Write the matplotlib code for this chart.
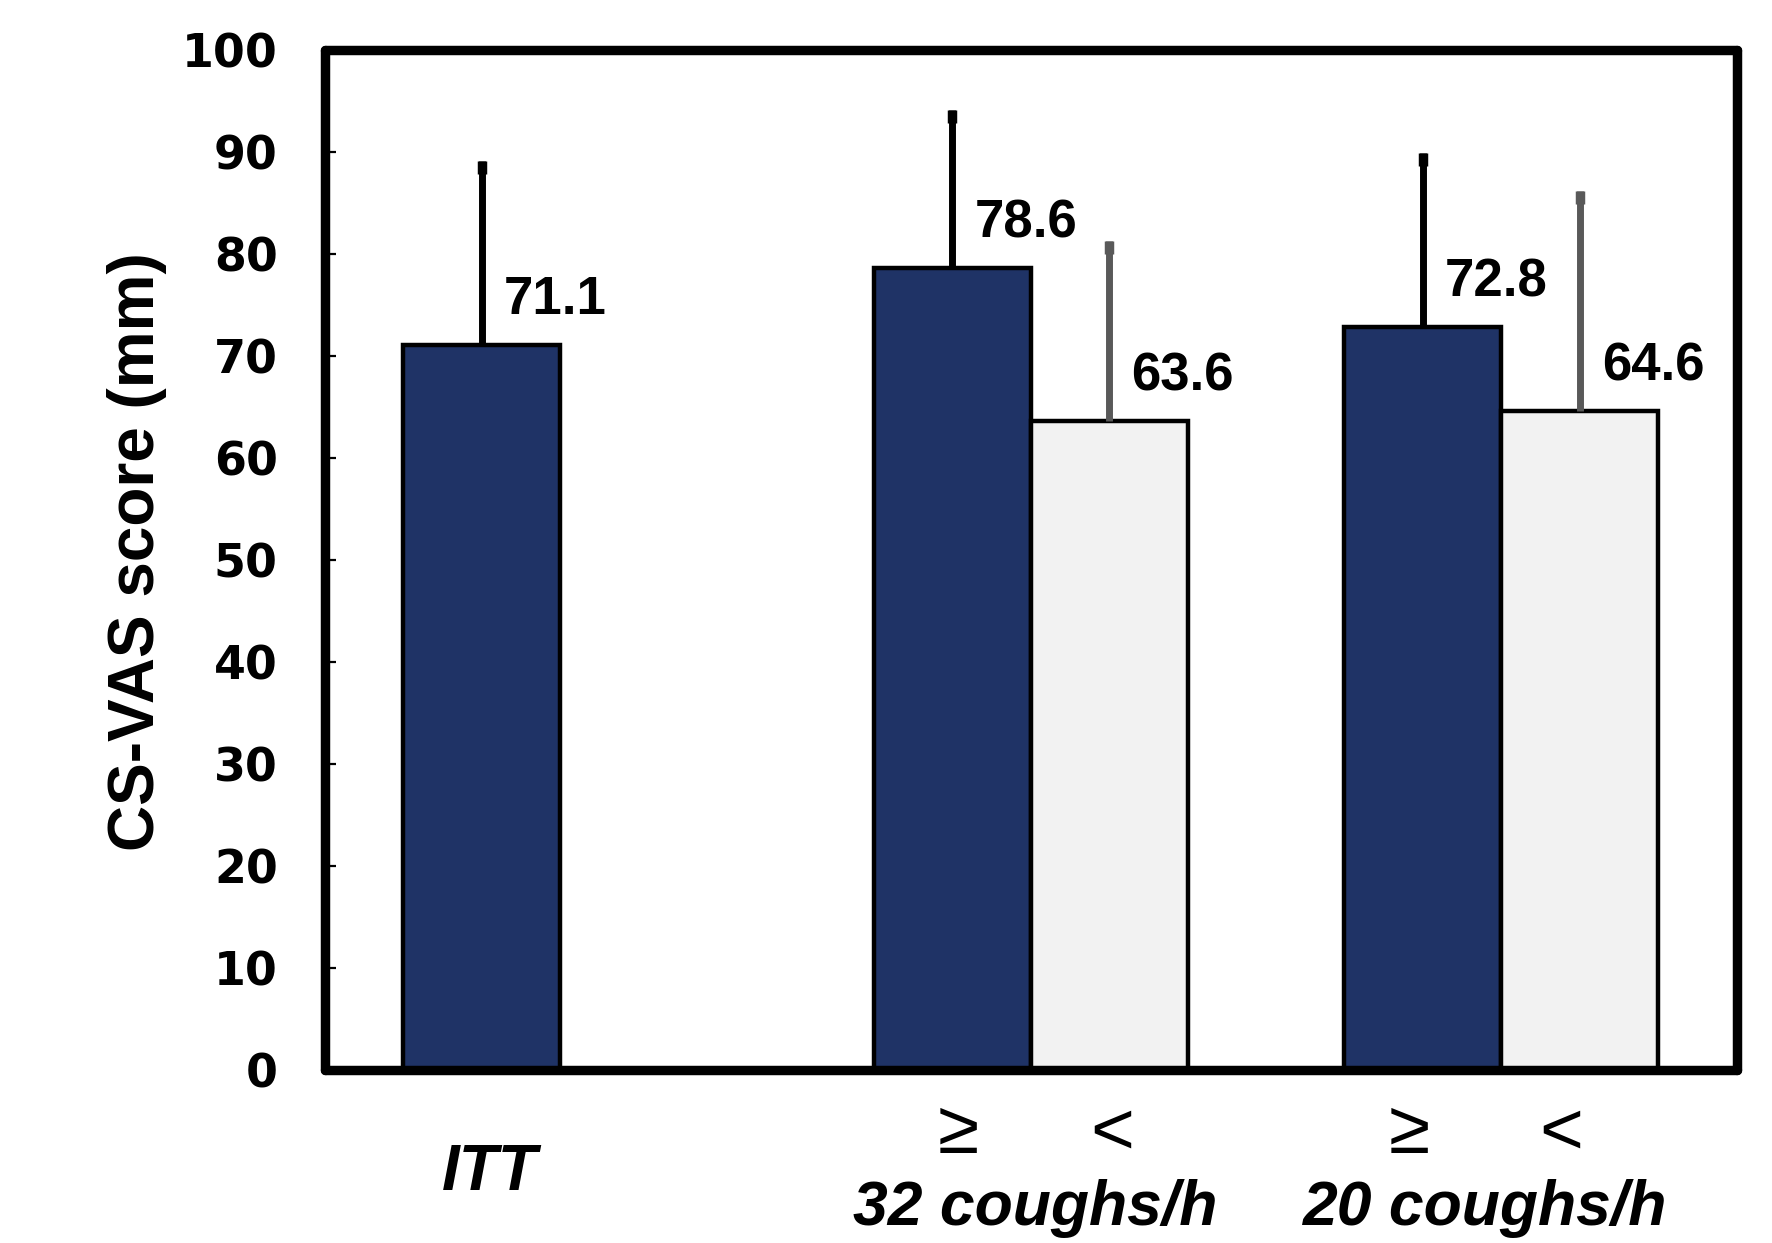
import matplotlib
matplotlib.use("Agg")
import matplotlib.pyplot as plt
from matplotlib.transforms import offset_copy

# Data
groups = ["ITT", "≥32", "<32", "≥20", "<20"]
means = [71.1, 78.6, 63.6, 72.8, 64.6]
sds = [18.0, 15.5, 17.7, 17.1, 21.6]
positions = [0, 3, 4, 6, 7]
is_high = [True, True, False, True, False]
yticks = [0, 10, 20, 30, 40, 50, 60, 70, 80, 90, 100]

dark = "#1f3366"
light = "#f2f2f2"

narrow = ["Liberation Sans Narrow", "Liberation Sans", "DejaVu Sans"]
sans = ["Liberation Sans", "DejaVu Sans"]

fig = plt.figure(figsize=(8.86, 6.215), dpi=200)
ax = fig.add_axes([0.1834, 0.1392, 0.980 - 0.1834, 0.960 - 0.1392])

for x, m, s, hi in zip(positions, means, sds, is_high):
    ax.bar(x, m, width=1.0, color=dark if hi else light, edgecolor="black",
           linewidth=1.6, zorder=2)
    ecol = "black" if hi else "#595959"
    ax.vlines(x, m, m + s, colors=ecol, linewidth=2.5, zorder=3)
    ax.plot([x, x], [m + s - 1.3, m + s], color=ecol, linewidth=3.4,
            solid_capstyle="butt", zorder=3)
    ax.annotate(f"{m:.1f}", (x + 0.14, m), xytext=(0, 7), textcoords="offset points",
                ha="left", va="bottom", fontsize=19, fontweight="bold", family=sans)

ax.set_xlim(-1, 8)
ax.set_ylim(0, 100)
ax.set_yticks(yticks)
ax.set_yticklabels([str(t) for t in yticks], fontsize=16.5, fontweight="bold",
                   family=["DejaVu Sans"])
ax.tick_params(axis="y", direction="in", length=4, width=0.8, pad=17)
ax.set_xticks([])
for sp in ax.spines.values():
    sp.set_linewidth(3.4)
    sp.set_capstyle("round")

fig.text(137 / 1772, 0.556, "CS-VAS score (mm)", rotation=90, ha="center", va="center",
         fontsize=23, fontweight="bold", family=narrow)

trans = ax.get_xaxis_transform()
t_itt = offset_copy(trans, fig=fig, x=0, y=-103 / 200 * 72, units="points")
t_sym = offset_copy(trans, fig=fig, x=0, y=-64 / 200 * 72, units="points")
t_grp = offset_copy(trans, fig=fig, x=0, y=-139 / 200 * 72, units="points")

ax.text(0.05, 0, "ITT", transform=t_itt, ha="center", va="center", fontsize=23,
        fontweight="bold", fontstyle="italic", family=narrow)
sym_labels = ["≥", "<", "≥", "<"]
sym_pos = [3.04, 4.02, 5.91, 6.88]
for lab, px in zip(sym_labels, sym_pos):
    ax.text(px, 0, lab, transform=t_sym, ha="center", va="center", fontsize=27,
            family=sans)
grp_labels = ["32 coughs/h", "20 coughs/h"]
grp_pos = [3.53, 6.4]
for lab, px in zip(grp_labels, grp_pos):
    ax.text(px, 0, lab, transform=t_grp, ha="center", va="center", fontsize=22.5,
            fontweight="bold", fontstyle="italic", family=narrow)

fig.savefig("out.png", dpi=200)
